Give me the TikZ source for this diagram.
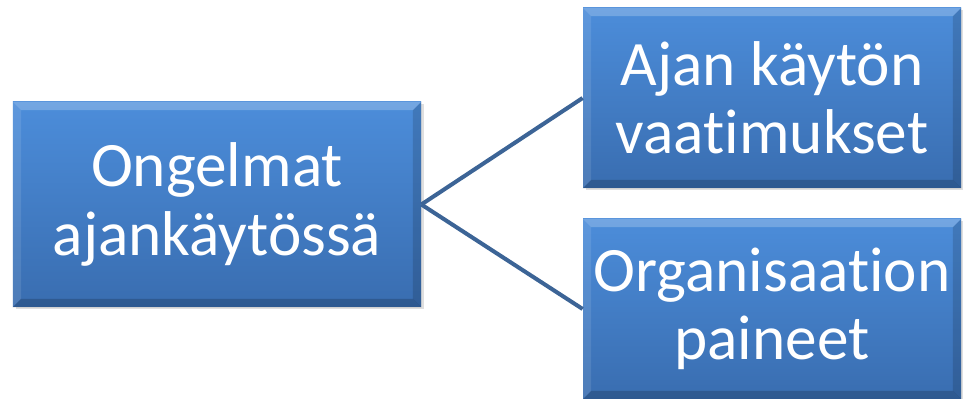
\documentclass[tikz,border=0pt]{standalone}
\usepackage{fontspec}
\setmainfont{Carlito}[Ligatures={NoCommon}]
\usetikzlibrary{positioning,shadows}

\definecolor{boxtop}{RGB}{76,141,218}
\definecolor{boxbot}{RGB}{57,109,176}
\definecolor{linkblue}{RGB}{60,100,150}

% bevelled edges of a box node
\newcommand\bevel[1]{%
 \fill[white,opacity=.22] (#1.north west) -- (#1.north east) -- ([shift={(-.17,-.17)}]#1.north east) -- ([shift={(.17,-.17)}]#1.north west) -- cycle;
 \fill[white,opacity=.10] (#1.north west) -- ([shift={(.17,-.17)}]#1.north west) -- ([shift={(.17,.17)}]#1.south west) -- (#1.south west) -- cycle;
 \fill[black,opacity=.18] (#1.south west) -- ([shift={(.17,.17)}]#1.south west) -- ([shift={(-.17,.17)}]#1.south east) -- (#1.south east) -- cycle;
 \fill[black,opacity=.14] (#1.north east) -- (#1.south east) -- ([shift={(-.17,.17)}]#1.south east) -- ([shift={(-.17,-.17)}]#1.north east) -- cycle;
}

\begin{document}
\begin{tikzpicture}[
 topic/.style={top color=boxtop, bottom color=boxbot, text=white, align=center, inner sep=0pt,
  font=\fontsize{36}{39}\selectfont,
  drop shadow={shadow xshift=.05cm, shadow yshift=-.05cm, opacity=.25}},
 link/.style={draw=linkblue, line width=2.3pt}
]
 \useasboundingbox (0,0) rectangle (19.26,-7.98);
 \node[topic, minimum width=8.16cm, minimum height=4.1cm] (main) at (4.34,-4.09) {Ongelmat\\ajankäytössä};
 \node[topic, minimum width=7.56cm, minimum height=3.6cm] (time) at (15.44,-1.96) {Ajan käytön\\vaatimukset};
 \node[topic, minimum width=7.56cm, minimum height=3.6cm] (org) at (15.44,-6.18) {Organisaation\\paineet};
 \bevel{main}
 \bevel{time}
 \bevel{org}
 \draw[link] (main.east) -- (time.west);
 \draw[link] (main.east) -- (org.west);
\end{tikzpicture}
\end{document}
